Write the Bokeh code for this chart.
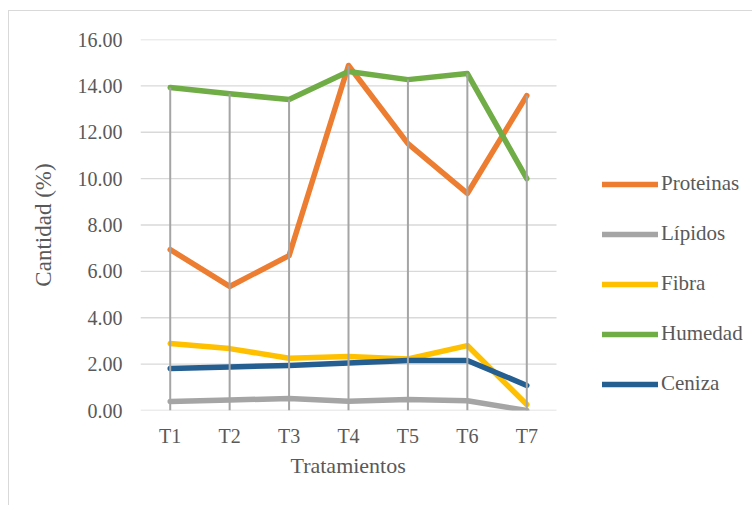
from bokeh.plotting import figure
from bokeh.models import (Legend, LegendItem, InlineStyleSheet, FixedTicker,
                          NumeralTickFormatter, Range1d, Title)
from bokeh.embed import file_html
from bokeh.resources import INLINE

# Composición proximal por tratamiento
tratamientos = ["T1", "T2", "T3", "T4", "T5", "T6", "T7"]
proteinas = [6.94, 5.35, 6.68, 14.88, 11.51, 9.36, 13.58]
lipidos = [0.39, 0.45, 0.52, 0.40, 0.47, 0.42, 0.00]
fibra = [2.89, 2.67, 2.25, 2.33, 2.22, 2.80, 0.26]
humedad = [13.93, 13.66, 13.41, 14.62, 14.27, 14.53, 10.00]
ceniza = [1.81, 1.88, 1.94, 2.05, 2.16, 2.16, 1.08]

y_ticks = [0, 2, 4, 6, 8, 10, 12, 14, 16]

series = [
    ("Proteinas", proteinas, "#ED7D31"),
    ("Lípidos", lipidos, "#A5A5A5"),
    ("Fibra", fibra, "#FFC000"),
    ("Humedad", humedad, "#70AD47"),
    ("Ceniza", ceniza, "#255E91"),
]

FONT = "Liberation Serif"
TEXT = "#595959"
GRID = "#D9D9D9"

# category slots 1..n; the frame also holds the legend to the right of the slots
n = len(tratamientos)
xs = list(range(1, n + 1))
slot_px = 416 / n
x_end = 0.5 + (752 - 140) / slot_px

p = figure(
    width=752, height=505,
    x_range=Range1d(0.5, x_end), y_range=Range1d(0, 16),
    output_backend="svg", toolbar_location=None,
    min_border_left=140, min_border_right=0,
    min_border_top=39, min_border_bottom=95,
)
p.outline_line_color = None
p.background_fill_color = "white"
p.border_fill_color = "white"

# chart area border (top and left edges visible)
p.stylesheets = [InlineStyleSheet(css="""
:host { position: relative; }
:host::after {
  content: ""; position: absolute; left: 8px; top: 10px;
  width: 800px; height: 600px;
  border: 1px solid #D9D9D9; pointer-events: none; box-sizing: border-box;
}
""")]

# horizontal gridlines across the category slots only
p.xgrid.grid_line_color = None
p.ygrid.grid_line_color = None
p.segment(x0=[0.5] * len(y_ticks), y0=y_ticks, x1=[n + 0.5] * len(y_ticks), y1=y_ticks,
          line_color=GRID, line_width=1.3)

p.yaxis.ticker = FixedTicker(ticks=y_ticks)
p.yaxis.formatter = NumeralTickFormatter(format="0.00")
p.xaxis.ticker = FixedTicker(ticks=xs)
p.xaxis.major_label_overrides = {x: t for x, t in zip(xs, tratamientos)}

for ax in (p.xaxis, p.yaxis):
    ax.axis_line_color = None
    ax.major_tick_line_color = None
    ax.minor_tick_line_color = None
    ax.major_label_text_font = FONT
    ax.major_label_text_color = TEXT
    ax.major_label_text_font_size = "20px"
    ax.axis_label_text_font = FONT
    ax.axis_label_text_color = TEXT
    ax.axis_label_text_font_size = "23px"
    ax.axis_label_text_font_style = "normal"

p.xaxis.major_label_standoff = 8
p.yaxis.major_label_standoff = 12
p.yaxis.axis_label = "Cantidad (%)"
p.yaxis.axis_label_standoff = 19

# x axis title, centred under the category slots
x_title = Title(text="Tratamientos", align="left", offset=150,
                text_font=FONT, text_font_size="22px", text_color=TEXT,
                text_font_style="normal", standoff=3)
p.add_layout(x_title, "below")

items = []
for name, vals, color in series:
    r = p.line(xs, vals, line_color=color, line_width=5.5,
               line_cap="round", line_join="round")
    items.append(LegendItem(label=name, renderers=[r]))

# drop lines from the highest value down to the category axis
tops = [max(vals) for vals in zip(proteinas, lipidos, fibra, humedad, ceniza)]
p.segment(x0=xs, y0=[0] * n, x1=xs, y1=tops, line_color="#A5A5A5", line_width=2)

legend = Legend(items=items, location=(462, 14))
legend.label_text_font = FONT
legend.label_text_color = TEXT
legend.label_text_font_size = "21px"
legend.glyph_width = 56
legend.glyph_height = 24
legend.label_height = 24
legend.label_standoff = 3
legend.spacing = 25
legend.padding = 10
legend.border_line_color = None
legend.background_fill_alpha = 0
p.add_layout(legend)

open("out.html", "w").write(file_html(p, INLINE))
